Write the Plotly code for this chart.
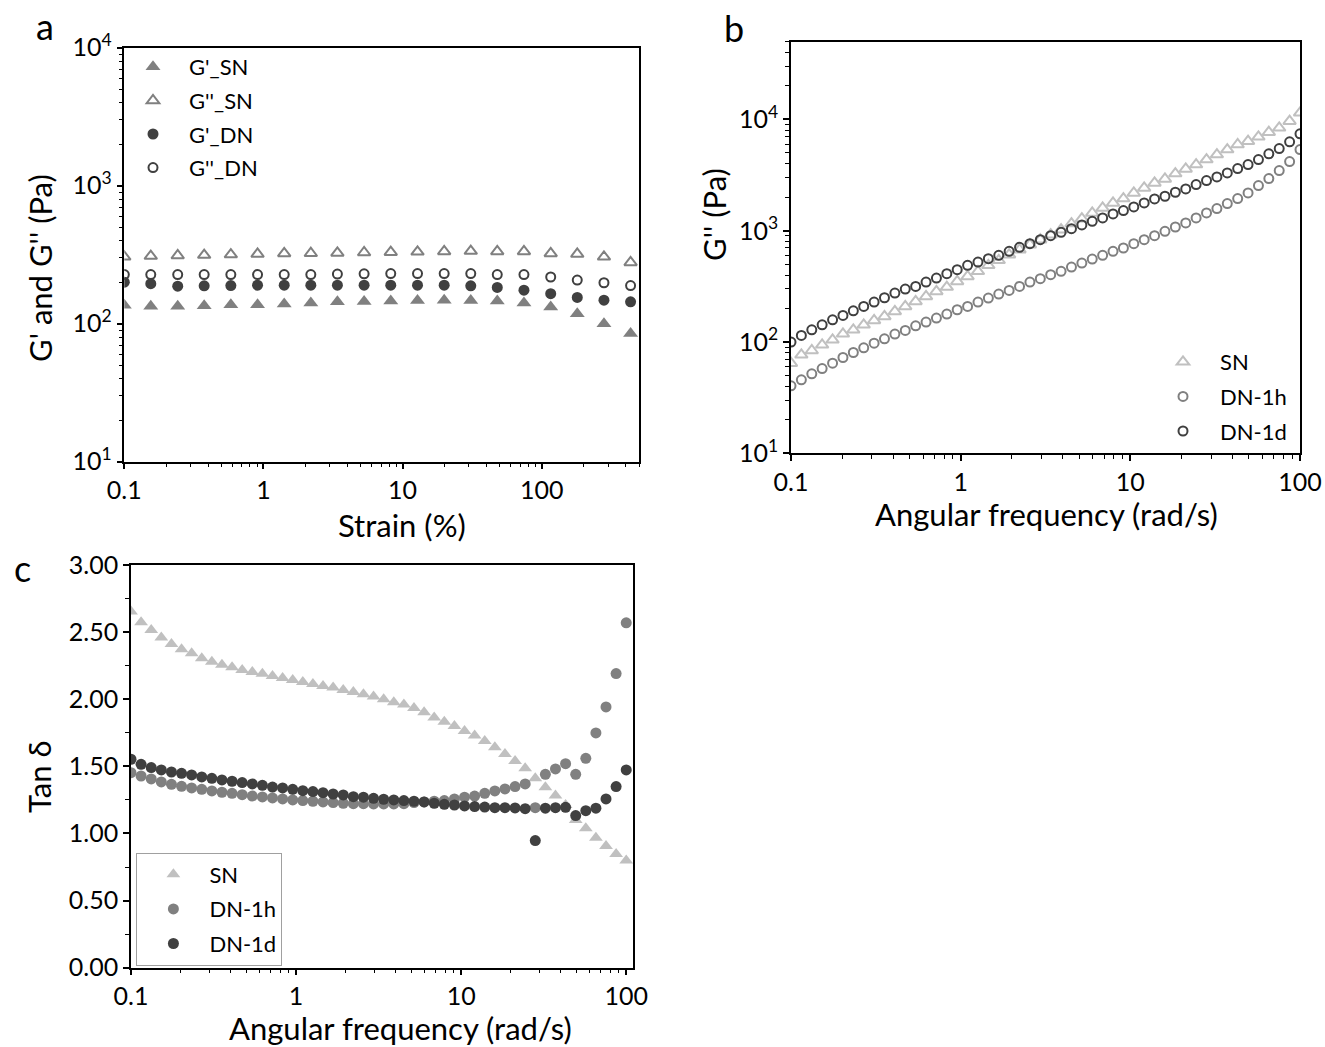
import plotly.graph_objects as go

# ---------------- data ----------------
# panel a: strain sweep
strain = [0.1, 0.155, 0.242, 0.375, 0.583, 0.907, 1.41, 2.19, 3.40, 5.29,
          8.22, 12.8, 19.9, 30.9, 47.9, 74.5, 116, 180, 280, 435]
gp_sn = [136, 134, 134, 135, 137, 137, 139, 141, 144, 145,
         146, 147, 148, 147, 146, 141, 132, 118, 100, 85]
gpp_sn = [305, 309, 312, 314, 317, 320, 323, 324, 326, 328,
          330, 332, 334, 336, 334, 334, 323, 320, 305, 278]
gp_dn = [200, 195, 187, 188, 189, 190, 190, 190, 190, 190,
         190, 190, 190, 188, 183, 175, 165, 155, 148, 144]
gpp_dn = [227, 227, 227, 227, 227, 227, 227, 227, 229, 230,
          231, 231, 231, 231, 227, 227, 218, 207, 198, 189]

# panels b and c: frequency sweep (rad/s)
freq = [0.1, 0.1151, 0.1326, 0.1526, 0.1758, 0.2024, 0.2330, 0.2683, 0.3089, 0.3556,
        0.4095, 0.4715, 0.5429, 0.6251, 0.7197, 0.8287, 0.9541, 1.0985, 1.2649, 1.4563,
        1.6768, 1.9307, 2.2230, 2.5595, 2.9471, 3.3932, 3.9069, 4.4984, 5.1795, 5.9636,
        6.8665, 7.9060, 9.1030, 10.481, 12.068, 13.895, 15.999, 18.421, 21.210, 24.421,
        28.118, 32.375, 37.276, 42.919, 49.417, 56.899, 65.513, 75.431, 86.851, 100.0]

gpp_b_sn = [64.6, 76.7, 83.9, 94.4, 104.7, 118.6, 128.8, 142.9, 156.3, 169.8,
            188.4, 208.9, 231.7, 257.0, 285.1, 311.9, 350.8, 389.0, 431.5, 488.7,
            542.0, 609.5, 676.1, 749.9, 831.8, 922.6, 1023, 1159, 1285, 1445,
            1603, 1778, 1945, 2188, 2427, 2692, 2924, 3266, 3597, 3936,
            4365, 4842, 5370, 5957, 6383, 6982, 7691, 8414, 9661, 11482]
gpp_b_1h = [40.4, 45.7, 51.8, 57.8, 64.6, 72.6, 80.5, 88.7, 97.7, 106.9,
            117.8, 127.1, 140.0, 151.0, 164.1, 178.2, 195.0, 208.9, 228.6, 248.3,
            269.8, 291.1, 316.2, 345.9, 370.7, 402.7, 431.5, 472.1, 512.9, 557.2,
            601.2, 653.1, 699.8, 765.6, 831.8, 903.6, 988.5, 1081, 1175, 1303,
            1445, 1581, 1754, 1945, 2188, 2547, 2944, 3475, 4188, 5370]
gpp_b_1d = [99.8, 114.5, 128.8, 142.9, 158.5, 173.4, 190.9, 208.9, 228.6, 250.0,
            275.4, 299.2, 316.2, 345.9, 375.8, 411.1, 446.7, 488.7, 523.6, 561.0,
            601.2, 653.1, 709.6, 765.6, 831.8, 903.6, 968.3, 1045, 1127, 1216,
            1303, 1416, 1517, 1637, 1778, 1932, 2042, 2218, 2377, 2600,
            2825, 3048, 3311, 3622, 3936, 4365, 4909, 5483, 6295, 7430]

tan_sn = [2.653, 2.574, 2.516, 2.459, 2.412, 2.372, 2.343, 2.305, 2.280, 2.256,
          2.238, 2.218, 2.203, 2.189, 2.174, 2.159, 2.144, 2.129, 2.114, 2.099,
          2.087, 2.069, 2.054, 2.037, 2.020, 2.000, 1.977, 1.960, 1.935, 1.903,
          1.863, 1.833, 1.801, 1.764, 1.729, 1.689, 1.642, 1.592, 1.540, 1.486,
          1.411, 1.344, 1.282, 1.212, 1.101, 1.039, 0.969, 0.907, 0.847, 0.798]
tan_1h = [1.453, 1.428, 1.406, 1.384, 1.366, 1.351, 1.339, 1.329, 1.317, 1.307,
          1.299, 1.289, 1.279, 1.272, 1.265, 1.257, 1.250, 1.245, 1.240, 1.235,
          1.230, 1.225, 1.222, 1.222, 1.220, 1.220, 1.220, 1.222, 1.230, 1.235,
          1.240, 1.245, 1.257, 1.270, 1.279, 1.299, 1.317, 1.332, 1.349, 1.369,
          1.192, 1.441, 1.481, 1.520, 1.441, 1.560, 1.749, 1.943, 2.191, 2.569]
tan_1d = [1.553, 1.515, 1.491, 1.473, 1.458, 1.448, 1.436, 1.421, 1.411, 1.399,
          1.389, 1.379, 1.369, 1.359, 1.346, 1.339, 1.329, 1.319, 1.312, 1.304,
          1.294, 1.287, 1.274, 1.270, 1.262, 1.255, 1.250, 1.245, 1.240, 1.235,
          1.225, 1.217, 1.212, 1.205, 1.200, 1.197, 1.192, 1.192, 1.190, 1.185,
          0.947, 1.188, 1.192, 1.195, 1.133, 1.170, 1.188, 1.257, 1.349, 1.473]

log_ticks = [10, 100, 1000, 10000]
log_ticktext = ["10<sup>1</sup>", "10<sup>2</sup>", "10<sup>3</sup>", "10<sup>4</sup>"]
x_ticks = [0.1, 1, 10, 100]
x_ticktext = ["0.1", "1", "10", "100"]
tan_ticks = [0, 0.5, 1.0, 1.5, 2.0, 2.5, 3.0]

# ---------------- style ----------------
W, H = 1325, 1047
FONT = "Lato"
GRAY = "#808080"
DARK = "#404040"
LIGHT = "#c0c0c0"
TICKF = 25
TITLEF = 31
LEGF = 22


def px_x(p):
    return p / W


def px_y(p):
    return 1 - p / H


minor_log = [m * 10 ** e for e in range(-2, 5) for m in range(2, 10)]

fig = go.Figure()

# panel a
fig.add_trace(go.Scatter(x=strain, y=gp_sn, mode="markers", name="G'_SN",
                         marker=dict(symbol="triangle-up", size=13, color=GRAY),
                         xaxis="x", yaxis="y", legend="legend", legendgroup="a1"))
fig.add_trace(go.Scatter(x=strain, y=gpp_sn, mode="markers", name="G''_SN",
                         marker=dict(symbol="triangle-up-open", size=11, color=GRAY,
                                     line=dict(width=2, color=GRAY)),
                         xaxis="x", yaxis="y", legend="legend", legendgroup="a2"))
fig.add_trace(go.Scatter(x=strain, y=gp_dn, mode="markers", name="G'_DN",
                         marker=dict(symbol="circle", size=11, color=DARK),
                         xaxis="x", yaxis="y", legend="legend", legendgroup="a3"))
fig.add_trace(go.Scatter(x=strain, y=gpp_dn, mode="markers", name="G''_DN",
                         marker=dict(symbol="circle-open", size=9, color=DARK,
                                     line=dict(width=2, color=DARK)),
                         xaxis="x", yaxis="y", legend="legend", legendgroup="a4"))

# panel b
fig.add_trace(go.Scatter(x=freq, y=gpp_b_sn, mode="markers", name="SN",
                         marker=dict(symbol="triangle-up-open", size=11, color=LIGHT,
                                     line=dict(width=2, color=LIGHT)),
                         xaxis="x2", yaxis="y2", legend="legend2", legendgroup="b1"))
fig.add_trace(go.Scatter(x=freq, y=gpp_b_1h, mode="markers", name="DN-1h",
                         marker=dict(symbol="circle-open", size=9, color=GRAY,
                                     line=dict(width=2, color=GRAY)),
                         xaxis="x2", yaxis="y2", legend="legend2", legendgroup="b2"))
fig.add_trace(go.Scatter(x=freq, y=gpp_b_1d, mode="markers", name="DN-1d",
                         marker=dict(symbol="circle-open", size=9, color=DARK,
                                     line=dict(width=2, color=DARK)),
                         xaxis="x2", yaxis="y2", legend="legend2", legendgroup="b3"))

# panel c
fig.add_trace(go.Scatter(x=freq, y=tan_sn, mode="markers", name="SN",
                         marker=dict(symbol="triangle-up", size=12, color=LIGHT),
                         xaxis="x3", yaxis="y3", legend="legend3", legendgroup="c1"))
fig.add_trace(go.Scatter(x=freq, y=tan_1h, mode="markers", name="DN-1h",
                         marker=dict(symbol="circle", size=11, color=GRAY),
                         xaxis="x3", yaxis="y3", legend="legend3", legendgroup="c2"))
fig.add_trace(go.Scatter(x=freq, y=tan_1d, mode="markers", name="DN-1d",
                         marker=dict(symbol="circle", size=11, color=DARK),
                         xaxis="x3", yaxis="y3", legend="legend3", legendgroup="c3"))

axis_common = dict(showline=True, linecolor="black", linewidth=1.5, mirror=True,
                   ticks="outside", ticklen=6, tickwidth=1.5, tickcolor="black",
                   showgrid=False, zeroline=False, automargin=False,
                   ticklabeloverflow="allow",
                   tickfont=dict(family=FONT, size=TICKF, color="black"))
minor_log_d = dict(tickmode="array", tickvals=minor_log, ticks="outside", ticklen=4,
                   tickwidth=1.2, tickcolor="black", showgrid=False)

fig.update_layout(
    width=W, height=H,
    margin=dict(l=0, r=0, t=0, b=0, autoexpand=False),
    paper_bgcolor="white", plot_bgcolor="white",
    font=dict(family=FONT, color="black"),
    xaxis=dict(domain=[px_x(124.3), px_x(639)], type="log", range=[-1, 2.699],
               tickvals=x_ticks, ticktext=x_ticktext, anchor="y",
               minor=minor_log_d, **axis_common),
    yaxis=dict(domain=[px_y(461.7), px_y(47.7)], type="log", range=[1, 4],
               tickvals=log_ticks, ticktext=log_ticktext, anchor="x",
               minor=minor_log_d, **axis_common),
    xaxis2=dict(domain=[px_x(791), px_x(1300)], type="log", range=[-1, 2],
                tickvals=x_ticks, ticktext=x_ticktext, anchor="y2",
                minor=minor_log_d, **axis_common),
    yaxis2=dict(domain=[px_y(453.3), px_y(41.7)], type="log", range=[1, 4.699],
                tickvals=log_ticks, ticktext=log_ticktext, anchor="x2",
                minor=minor_log_d, **axis_common),
    xaxis3=dict(domain=[px_x(131), px_x(633)], type="log", range=[-1, 2.041],
                tickvals=x_ticks, ticktext=x_ticktext, anchor="y3",
                minor=minor_log_d, **axis_common),
    yaxis3=dict(domain=[px_y(967.7), px_y(565)], range=[0, 3],
                tickvals=tan_ticks, tickformat=".2f", anchor="x3",
                minor=dict(dtick=0.25, ticks="outside", ticklen=4, tickwidth=1.2,
                           tickcolor="black", showgrid=False),
                **axis_common),
    legend=dict(x=px_x(117), y=px_y(46), xanchor="left", yanchor="top",
                font=dict(family=FONT, size=LEGF, color="black"),
                bgcolor="rgba(0,0,0,0)", borderwidth=0, itemwidth=62,
                tracegroupgap=2),
    legend2=dict(x=px_x(1146), y=px_y(341), xanchor="left", yanchor="top",
                 font=dict(family=FONT, size=LEGF, color="black"),
                 bgcolor="rgba(0,0,0,0)", borderwidth=0, itemwidth=64,
                 tracegroupgap=3),
    legend3=dict(x=px_x(136.4), y=px_y(852.5), xanchor="left", yanchor="top",
                 font=dict(family=FONT, size=LEGF, color="black"),
                 bgcolor="white", bordercolor="#a0a0a0", borderwidth=1, itemwidth=62,
                 tracegroupgap=3),
    showlegend=True,
)


def ann(text, x, y, size, angle=0):
    return dict(text=text, x=px_x(x), y=px_y(y), xref="paper", yref="paper",
                showarrow=False, xanchor="center", yanchor="middle",
                textangle=angle, font=dict(family=FONT, size=size, color="black"))


fig.update_layout(annotations=[
    ann("a", 45, 26, 36),
    ann("b", 734, 28, 36),
    ann("c", 22, 568, 36),
    ann("G' and G'' (Pa)", 40, 268, TITLEF, -90),
    ann("Strain (%)", 402, 525, TITLEF),
    ann("G'' (Pa)", 714, 215, TITLEF, -90),
    ann("Angular frequency (rad/s)", 1046, 514, TITLEF),
    ann("Tan δ", 39, 777, TITLEF, -90),
    ann("Angular frequency (rad/s)", 400, 1028, TITLEF),
])

fig.write_html("out.html",
               config={"displayModeBar": False},
               post_script="document.body.style.margin='0px';"
                           "document.body.style.overflow='hidden';")
